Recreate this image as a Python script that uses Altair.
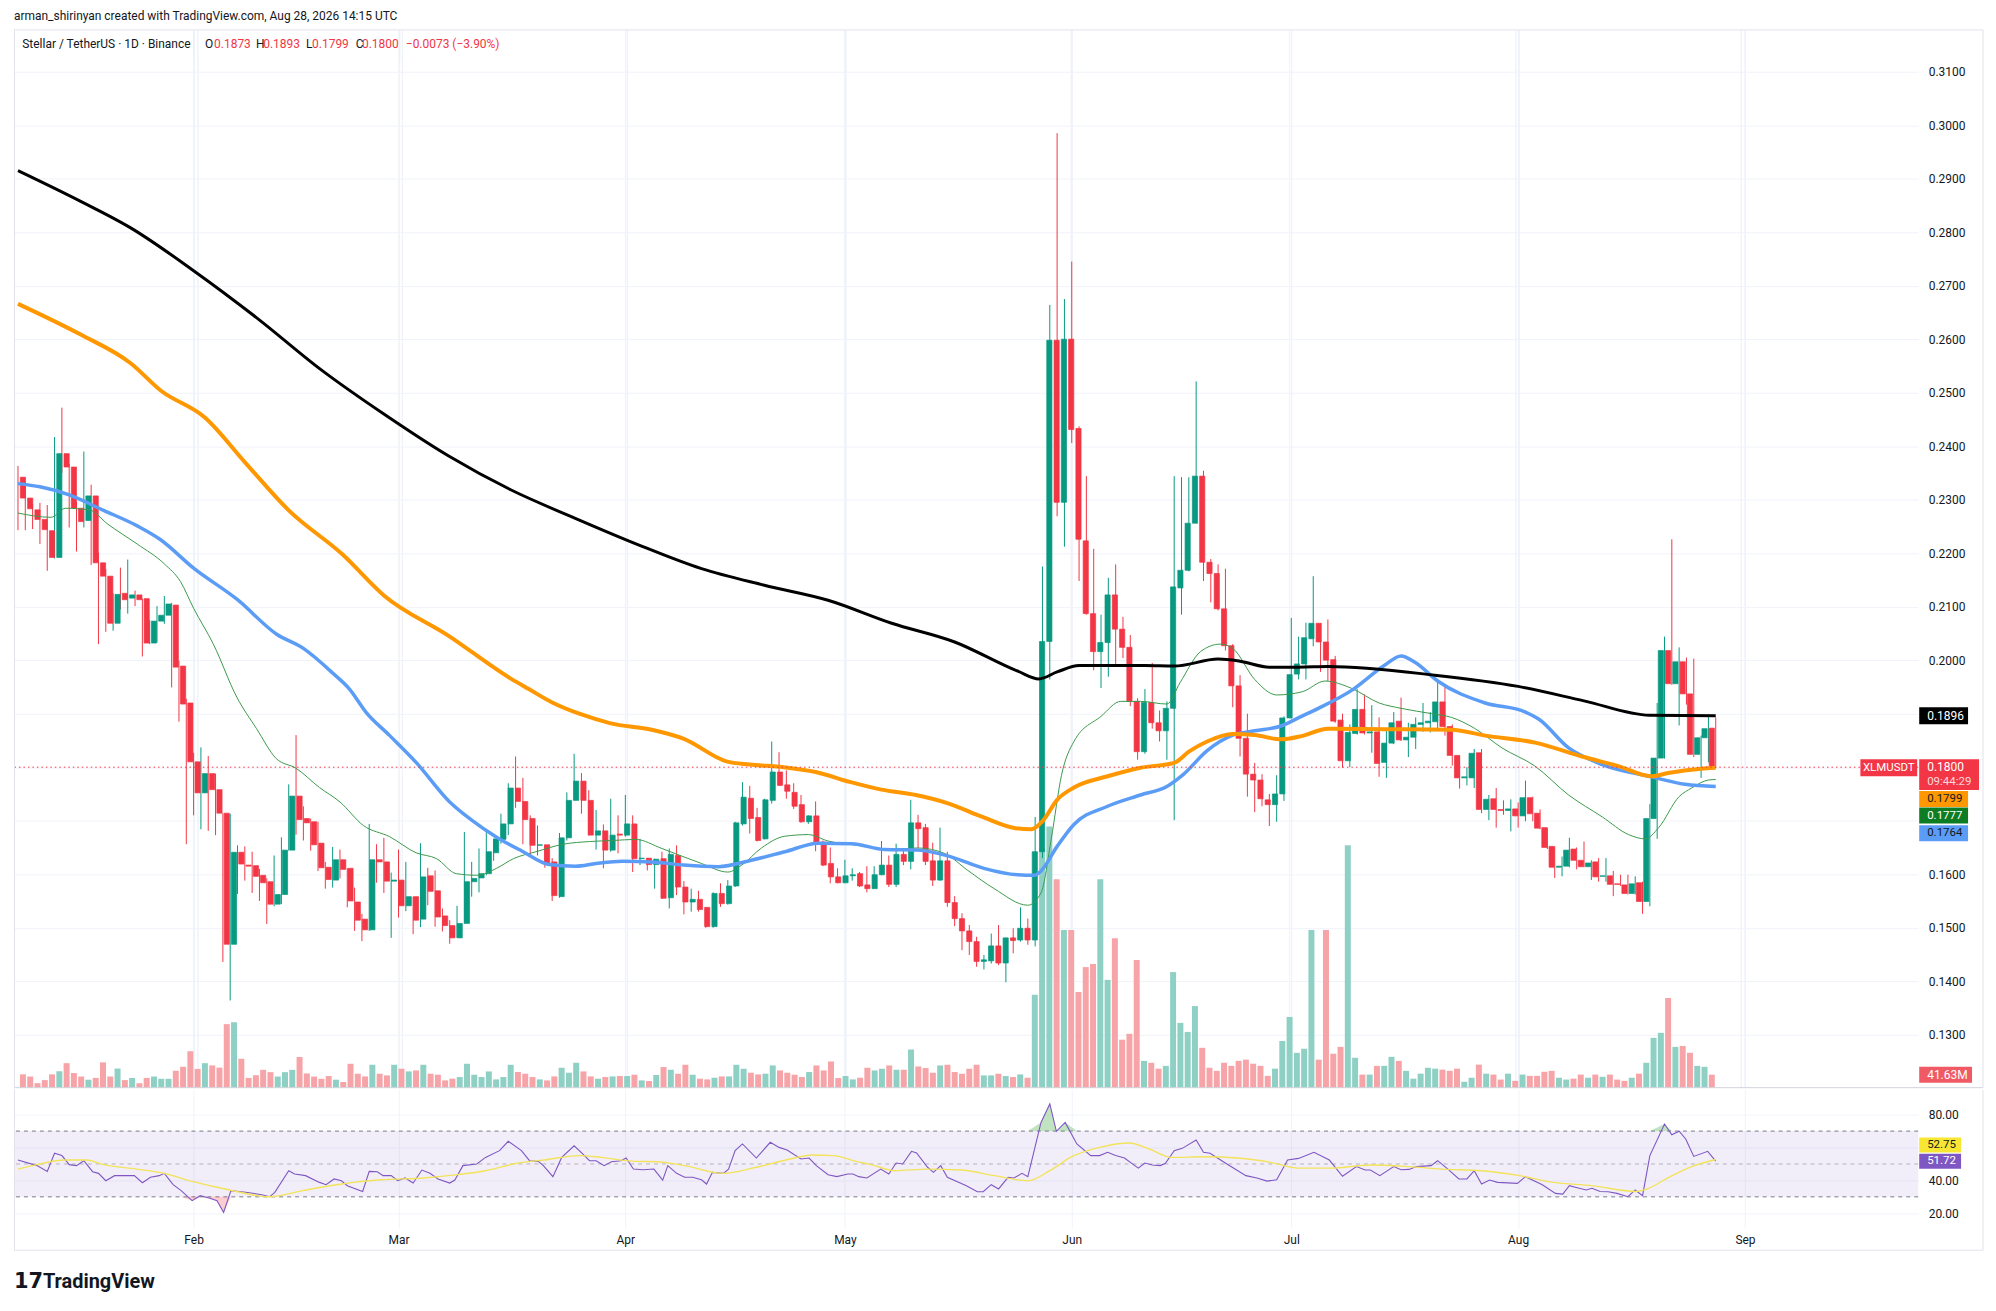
import altair as alt
import pandas as pd

START = "2026-01-08"

opens = [
    .2342, .2303, .2281, .2263, .2242, .2192, .2386, .2361, .2284, .2261,
    .2307, .2182, .2157, .2069, .2125, .2116, .2122, .2115, .2032, .2073,
    .2084, .2103, .1989, .1920, .1810, .1752, .1788, .1758, .1714, .1469,
    .1641, .1617, .1616, .1598, .1586, .1544, .1562, .1645, .1746, .1704,
    .1698, .1658, .1613, .1589, .1627, .1611, .1548, .1516, .1496, .1627,
    .1623, .1587, .1589, .1541, .1558, .1516, .1597, .1569, .1522, .1504,
    .1481, .1508, .1586, .1593, .1601, .1640, .1665, .1694, .1761, .1736,
    .1704, .1654, .1655, .1623, .1558, .1668, .1738, .1774, .1738, .1673,
    .1681, .1645, .1675, .1673, .1694, .1629, .1630, .1618, .1629, .1556,
    .1635, .1576, .1548, .1553, .1538, .1502, .1564, .1545, .1578, .1694,
    .1742, .1706, .1666, .1738, .1791, .1767, .1753, .1730, .1698, .1709,
    .1660, .1620, .1595, .1584, .1597, .1601, .1580, .1573, .1599, .1617,
    .1581, .1637, .1624, .1696, .1687, .1625, .1589, .1625, .1547, .1517,
    .1494, .1474, .1437, .1438, .1466, .1434, .1481, .1477, .1499, .1477,
    .1642, .2035, .2598, .2295, .2600, .2433, .2223, .2087, .2016, .2033,
    .2122, .2058, .2024, .1923, .1829, .1921, .1883, .1868, .1910, .2135,
    .2168, .2256, .2344, .2183, .2162, .2096, .2027, .1952, .1854, .1787,
    .1776, .1739, .1730, .1750, .1892, .1974, .1993, .2040, .2069, .2034,
    .2001, .1888, .1812, .1863, .1908, .1864, .1866, .1809, .1845, .1886,
    .1851, .1856, .1880, .1883, .1885, .1922, .1876, .1822, .1780, .1780,
    .1827, .1721, .1741, .1721, .1719, .1722, .1709, .1743, .1714, .1687,
    .1652, .1613, .1615, .1647, .1626, .1614, .1623, .1596, .1597, .1582,
    .1580, .1564, .1584, .1549, .1704, .1817, .2018, .1956, .1997, .1937,
    .1824, .1855, .1873,
]
highs = [
    .2363, .2334, .2292, .2294, .2290, .2417, .2472, .2367, .2296, .2390,
    .2328, .2201, .2170, .2125, .2173, .2188, .2130, .2115, .2075, .2101,
    .2120, .2107, .1999, .1928, .1827, .1837, .1821, .1788, .1714, .1713,
    .1654, .1652, .1642, .1610, .1592, .1635, .1669, .1768, .1860, .1727,
    .1704, .1698, .1623, .1651, .1646, .1611, .1575, .1526, .1694, .1656,
    .1668, .1603, .1646, .1623, .1558, .1658, .1612, .1607, .1536, .1514,
    .1541, .1679, .1623, .1648, .1682, .1666, .1713, .1770, .1820, .1780,
    .1710, .1691, .1655, .1630, .1677, .1753, .1825, .1789, .1757, .1720,
    .1693, .1741, .1710, .1748, .1710, .1666, .1630, .1629, .1642, .1648,
    .1654, .1587, .1573, .1569, .1538, .1566, .1583, .1589, .1698, .1772,
    .1765, .1724, .1741, .1848, .1828, .1794, .1770, .1748, .1710, .1736,
    .1663, .1650, .1611, .1627, .1611, .1604, .1615, .1615, .1662, .1635,
    .1657, .1649, .1739, .1711, .1694, .1659, .1687, .1642, .1559, .1527,
    .1505, .1483, .1449, .1489, .1505, .1481, .1499, .1538, .1517, .1707,
    .2175, .2664, .2985, .2675, .2745, .2437, .2344, .2208, .2085, .2154,
    .2179, .2081, .2047, .1929, .1946, .1995, .1906, .1923, .2344, .2342,
    .2342, .2521, .2354, .2189, .2179, .2171, .2030, .1972, .1900, .1808,
    .1787, .1750, .1785, .1895, .2079, .2044, .2070, .2157, .2069, .2076,
    .2008, .1900, .1880, .1946, .1936, .1916, .1893, .1870, .1903, .1930,
    .1883, .1893, .1920, .1903, .1964, .1955, .1880, .1822, .1800, .1834,
    .1834, .1748, .1761, .1738, .1740, .1734, .1775, .1745, .1721, .1687,
    .1652, .1633, .1668, .1650, .1661, .1626, .1630, .1630, .1606, .1599,
    .1599, .1596, .1586, .1731, .1920, .2044, .2226, .2024, .2005, .2003,
    .1859, .1897, .1893,
]
lows = [
    .2243, .2243, .2245, .2217, .2167, .2190, .2350, .2248, .2203, .2248,
    .2178, .2030, .2053, .2055, .2095, .2087, .2101, .2007, .2030, .2033,
    .2068, .1949, .1885, .1656, .1710, .1684, .1681, .1673, .1436, .1364,
    .1563, .1588, .1565, .1550, .1507, .1540, .1544, .1644, .1674, .1663,
    .1644, .1606, .1573, .1575, .1592, .1538, .1494, .1475, .1494, .1584,
    .1565, .1481, .1519, .1531, .1488, .1501, .1542, .1502, .1493, .1470,
    .1481, .1508, .1558, .1566, .1598, .1625, .1657, .1673, .1724, .1656,
    .1632, .1635, .1612, .1550, .1556, .1663, .1738, .1713, .1673, .1646,
    .1611, .1642, .1639, .1670, .1604, .1617, .1607, .1573, .1554, .1536,
    .1561, .1525, .1530, .1530, .1500, .1500, .1539, .1543, .1576, .1691,
    .1676, .1661, .1665, .1732, .1765, .1741, .1722, .1696, .1694, .1643,
    .1615, .1583, .1583, .1583, .1588, .1576, .1566, .1573, .1598, .1576,
    .1576, .1617, .1609, .1648, .1617, .1578, .1588, .1539, .1503, .1458,
    .1449, .1427, .1422, .1433, .1430, .1398, .1452, .1474, .1468, .1465,
    .1630, .1964, .2269, .2212, .2406, .2148, .2085, .1981, .1948, .1969,
    .1993, .2004, .1914, .1814, .1825, .1872, .1848, .1814, .1701, .2085,
    .2166, .2256, .2148, .2108, .2093, .2018, .1912, .1820, .1745, .1716,
    .1727, .1690, .1698, .1737, .1891, .1964, .1964, .2026, .1978, .1961,
    .1883, .1799, .1800, .1861, .1861, .1827, .1782, .1780, .1843, .1849,
    .1819, .1834, .1866, .1865, .1870, .1859, .1803, .1760, .1766, .1761,
    .1714, .1701, .1687, .1711, .1680, .1687, .1699, .1699, .1684, .1647,
    .1593, .1596, .1613, .1609, .1613, .1589, .1586, .1586, .1559, .1578,
    .1562, .1562, .1526, .1540, .1666, .1816, .1954, .1878, .1917, .1819,
    .1780, .1809, .1799,
]
closes = [
    .2303, .2283, .2263, .2244, .2192, .2386, .2361, .2284, .2259, .2307,
    .2182, .2157, .2069, .2123, .2113, .2122, .2113, .2032, .2073, .2084,
    .2105, .1987, .1918, .1810, .1752, .1788, .1758, .1714, .1469, .1641,
    .1619, .1615, .1596, .1584, .1544, .1562, .1645, .1746, .1702, .1696,
    .1655, .1612, .1590, .1627, .1609, .1550, .1514, .1496, .1627, .1623,
    .1587, .1589, .1541, .1558, .1514, .1595, .1568, .1520, .1504, .1481,
    .1508, .1586, .1592, .1601, .1642, .1666, .1694, .1761, .1736, .1702,
    .1654, .1655, .1620, .1560, .1668, .1738, .1774, .1738, .1673, .1681,
    .1645, .1673, .1673, .1694, .1629, .1630, .1618, .1628, .1555, .1637,
    .1576, .1548, .1553, .1534, .1502, .1564, .1545, .1578, .1696, .1744,
    .1704, .1663, .1739, .1791, .1766, .1755, .1727, .1698, .1709, .1660,
    .1617, .1595, .1584, .1597, .1599, .1578, .1573, .1599, .1617, .1581,
    .1637, .1624, .1696, .1685, .1624, .1589, .1625, .1547, .1517, .1494,
    .1474, .1437, .1440, .1466, .1434, .1481, .1476, .1499, .1477, .1642,
    .2035, .2598, .2295, .2600, .2431, .2226, .2087, .2016, .2033, .2122,
    .2058, .2024, .1923, .1829, .1921, .1883, .1868, .1910, .2137, .2168,
    .2256, .2344, .2183, .2162, .2096, .2027, .1952, .1854, .1787, .1776,
    .1741, .1730, .1750, .1892, .1973, .1993, .2042, .2069, .2034, .2000,
    .1886, .1812, .1865, .1908, .1864, .1866, .1807, .1845, .1883, .1851,
    .1856, .1880, .1883, .1886, .1922, .1876, .1822, .1780, .1782, .1826,
    .1721, .1740, .1721, .1719, .1722, .1709, .1743, .1713, .1686, .1650,
    .1613, .1615, .1645, .1626, .1614, .1621, .1595, .1597, .1581, .1581,
    .1564, .1582, .1549, .1704, .1817, .2018, .1956, .1997, .1937, .1824,
    .1855, .1872, .1800,
]
volumes_m = [
    42.9, 35.8, 14.4, 24.3, 42.9, 52.8, 78.7, 47.0, 35.8, 25.6,
    31.4, 81.3, 35.8, 61.4, 24.3, 31.4, 14.4, 31.4, 35.8, 28.5,
    28.5, 54.4, 67.2, 117, 60.2, 78.7, 71.4, 64.3, 204, 210,
    92.8, 31.4, 40, 57.3, 49.9, 35.8, 49.9, 57.3, 98.6, 45.8,
    35.8, 28.5, 37.4, 25.6, 18.2, 76.8, 44.8, 36.2, 73.6, 44.8,
    39.4, 73.6, 60.8, 52.2, 55.4, 73.6, 44.8, 41.6, 23.4, 28.8,
    34.2, 76.8, 41.6, 34.2, 52.2, 26.6, 34.2, 73.6, 50.2, 44.8,
    34.2, 26.6, 23.4, 36.2, 64, 48, 80, 52.2, 36.2, 28.8,
    34.2, 36.2, 37.4, 37.4, 41.6, 23.4, 21.4, 40.6, 66.2, 57.6,
    44.8, 73.6, 41.6, 28.8, 26.6, 32, 36.2, 36.2, 73.6, 60.8,
    48, 42.6, 44.8, 71.4, 55.4, 48, 41.6, 34.2, 50.2, 71.4,
    55.4, 84.2, 31, 37.4, 26.6, 32, 64, 55.4, 60.8, 71.4,
    57.6, 57.6, 122.6, 68.2, 63, 48, 71.4, 73.6, 50.2, 44.8,
    60.8, 73.6, 39.4, 39.4, 44.8, 37.4, 34.2, 42.6, 32, 298.6,
    768, 838, 669, 506, 506, 307, 387, 397, 669, 346,
    480, 154, 173, 410, 86, 80, 61, 70, 371, 208,
    179, 262, 128, 64, 54, 80, 70, 86, 90, 77,
    70, 38, 61, 150, 227, 112, 125, 506, 90, 506,
    109, 131, 778, 96, 42, 42, 70, 70, 99, 86,
    54, 29, 45, 64, 61, 58, 54, 61, 19, 32,
    74, 45, 42, 26, 45, 22, 42, 38, 38, 51,
    54, 32, 26, 29, 42, 32, 42, 35, 42, 26,
    22, 32, 45, 80, 160, 176, 288, 131, 134, 112,
    70, 67, 41.63,
]

# moving averages (day offset from start, value)
black_days = [0, 8.5, 15.4, 24, 32.8, 41.4, 50, 58.8, 67.4, 76, 84.7, 93.4, 102, 110.7, 119.4, 128,
              136.7, 139.5, 142, 145, 154, 158, 164, 167, 171, 175, 179, 193.6, 205, 214, 223, 232]
black_vals = [.2915, .2858, .2808, .2728, .2638, .2543, .2460, .2382, .2318, .2266, .2216, .2171, .2140,
              .2112, .2069, .2034, .1979, .1965, .1978, .1990, .1990, .1989, .2002, .1998, .1987, .1987,
              .1988, .1972, .1951, .1924, .1897, .1896]
orange_days = [0, 8.5, 15.4, 19.5, 25.5, 31.2, 37, 44.4, 50, 58.8, 67.4, 69.8, 73, 76.9, 81, 86.6, 91,
               96.8, 100, 104.6, 109, 113.8, 118, 122.7, 127.2, 131.8, 136.3, 138.5, 140, 142, 144.3,
               148.9, 153.4, 158, 160, 162.5, 166, 169, 172.6, 175.4, 179, 186.8, 195.9, 200.5, 207.3,
               214, 218.7, 223.2, 225.5, 230, 232]
orange_vals = [.2666, .2609, .2555, .2504, .2454, .2367, .2280, .2197, .2121, .2046, .1965, .1946, .1921,
               .1899, .1882, .1870, .1853, .1811, .1805, .1800, .1791, .1772, .1758, .1748, .1732, .1707,
               .1686, .1684, .1699, .1739, .1762, .1783, .1799, .1808, .1829, .1848, .1862, .1860, .1852,
               .1858, .1872, .1871, .1870, .1859, .1846, .1819, .1802, .1783, .1789, .1797, .1799]
blue_days = [0, 3, 7, 11.7, 16.3, 19.4, 24, 30, 35.3, 39, 43, 45.3, 47.6, 50.8, 54.4, 59, 62, 65.3, 68.9,
             72.6, 76.2, 79, 82.6, 86.6, 91, 95.7, 100.2, 104.8, 109.4, 113.9, 118.5, 123, 127.6, 132,
             136.6, 138.9, 139.8, 142, 144.3, 148.9, 153.4, 157, 159.3, 162.5, 166, 169, 172.6, 175.4,
             177.7, 182.3, 186.8, 189, 191, 194, 200.5, 206, 207.8, 211.9, 216.5, 223.2, 227.8, 232]
blue_vals = [.2330, .2324, .2309, .2280, .2251, .2226, .2172, .2113, .2049, .2022, .1976, .1946, .1902,
             .1859, .1809, .1735, .1701, .1670, .1643, .1618, .1615, .1620, .1624, .1623, .1617, .1614,
             .1626, .1642, .1658, .1657, .1646, .1645, .1632, .1611, .1599, .1598, .1606, .1652, .1693,
             .1727, .1748, .1764, .1787, .1831, .1860, .1868, .1877, .1895, .1910, .1944, .1991, .2008,
             .1995, .1961, .1920, .1903, .1890, .1836, .1805, .1782, .1768, .1764]
green_days = [0, 4.5, 6.5, 9.9, 12.2, 16.3, 20, 22.2, 24, 26.7, 29.9, 32.6, 35.3, 38, 41.2, 44, 47.2, 50.8,
              54.4, 57.2, 59.9, 62.7, 65.4, 67.7, 70.8, 74.5, 78.1, 81.3, 84.4, 88, 93.4, 97, 98.9, 101.6,
              104.8, 108, 110.7, 114.8, 119.4, 123, 126.6, 129.8, 133.4, 138, 139.8, 141.2, 142.6, 144.3,
              148, 150.7, 153.4, 157, 158.8, 161.6, 164.3, 166, 169, 172, 175.5, 178.6, 182.3, 186, 189,
              193.2, 195.9, 199, 202.8, 207.3, 211.9, 216.5, 220.1, 222.4, 224.2, 227, 228.7, 231, 232]
green_vals = [.2275, .2267, .2284, .2280, .2255, .2217, .2180, .2147, .2097, .2030, .1931, .1872, .1816,
              .1798, .1762, .1735, .1691, .1670, .1640, .1629, .1601, .1598, .1611, .1629, .1642, .1656,
              .1661, .1663, .1665, .1648, .1620, .1604, .1617, .1649, .1671, .1674, .1662, .1654, .1646,
              .1649, .1639, .1607, .1573, .1542, .1565, .1666, .1785, .1848, .1895, .1923, .1923, .1918,
              .1958, .2016, .2030, .2022, .1964, .1935, .1941, .1961, .1947, .1920, .1910, .1900, .1893,
              .1873, .1836, .1802, .1748, .1707, .1674, .1666, .1687, .1745, .1761, .1776, .1777]

rsi_days = [0, 2.6, 4, 5, 6, 7, 8, 9, 10.2, 11, 12, 13.2, 15.9, 17, 18.1, 19.3, 20, 21.2, 22.3, 23.8,
            24.9, 26.1, 27.2, 28.1, 29.1, 31.4, 33.3, 34.4, 35.1, 37, 37.8, 39.3, 41.2, 42.1, 43.2, 44.2,
            45, 47.1, 48, 49.1, 49.9, 51, 51.9, 52.9, 54, 55.2, 56.3, 57.4, 59, 59.7, 60.8, 62.7, 63.9,
            65.8, 67, 68.8, 69.9, 71.1, 71.8, 73.1, 74.3, 76, 77.1, 78.1, 79, 80.1, 81.1, 82.4, 83.1, 84.1,
            85.4, 86.9, 88.1, 88.8, 90, 91.1, 92.2, 93.4, 94.1, 94.9, 96.4, 97.1, 98, 99, 100.9, 102.8, 104,
            105.1, 107, 108.1, 109.1, 110.7, 111.9, 113.4, 114.1, 114.9, 116, 117.9, 119, 120, 120.9,
            122.1, 122.8, 124.3, 125.1, 126.1, 127, 129.6, 131.1, 131.9, 133, 134, 135.3, 136.1, 137.2,
            138, 139.8, 141, 141.9, 143.1, 144.7, 146.6, 147.8, 148.9, 150, 151.2, 153.1, 154, 155, 156.1,
            156.8, 158, 159.1, 161, 162, 162.9, 165.2, 167.8, 169.3, 170.7, 172, 173.5, 175, 177.1, 179.2,
            181, 182.9, 184.1, 184.8, 186.1, 188, 189, 190.1, 191.1, 193.1, 194, 195.4, 196.9, 198, 199,
            200, 201.1, 202.2, 204.9, 206, 208.3, 210.1, 211.1, 212, 213.2, 214.3, 215.1, 216.2, 217.3,
            218.5, 220, 221, 222, 223, 225, 226, 227, 227.9, 229, 230.9, 232]
rsi_vals = [52.4, 49.0, 45.5, 56.5, 55.1, 49.6, 49.0, 52.0, 45.3, 44.3, 39.8, 42.9, 42.9, 38.6, 41.9, 42.9,
            44.3, 37.4, 33.8, 27.7, 30.7, 29.3, 27.7, 20.6, 33.8, 32.7, 31.3, 30.1, 32.7, 45.9, 43.9, 42.9,
            38.8, 37.4, 40.9, 39.8, 36.8, 33.3, 45.5, 45.3, 42.9, 42.9, 39.8, 41.5, 38.4, 46.3, 44.3, 40.9,
            38.4, 40.2, 49.0, 50.0, 54.0, 58.1, 63.8, 58.1, 52.0, 51.6, 49.0, 42.3, 54.0, 61.1, 56.5, 52.0,
            52.0, 49.0, 51.4, 52.0, 53.6, 46.9, 46.5, 46.9, 40.2, 49.0, 44.3, 41.9, 41.9, 40.4, 37.8, 44.9,
            44.3, 46.9, 58.1, 62.2, 53.6, 63.2, 60.1, 58.5, 53.0, 53.6, 49.0, 43.5, 42.3, 43.9, 43.9, 42.3,
            41.5, 46.9, 43.9, 50.6, 50.0, 57.7, 56.7, 48.0, 44.9, 49.0, 41.9, 36.8, 33.1, 33.1, 37.4, 34.8,
            41.9, 41.5, 44.3, 42.3, 75.3, 86.5, 69.9, 75.3, 62.2, 55.1, 55.1, 57.1, 55.1, 53.6, 47.5, 50.6,
            49.4, 49.0, 50.4, 58.1, 59.5, 64.6, 57.1, 56.5, 50.0, 42.9, 41.5, 39.6, 40.4, 52.4, 53.4, 57.1,
            52.4, 42.5, 48.4, 46.3, 46.3, 42.9, 48.4, 46.5, 46.7, 48.4, 49.0, 52.0, 46.9, 40.9, 40.9, 45.9,
            37.8, 40.2, 38.8, 38.2, 42.3, 37.4, 32.1, 31.7, 36.8, 35.4, 34.2, 35.2, 33.3, 33.1, 32.1, 30.1,
            34.2, 30.7, 55.1, 74.3, 67.8, 69.9, 65.2, 54.6, 57.7, 51.72]
rsi_ma_days = [0, 2.6, 6.4, 9.4, 11.7, 16.2, 20, 23.8, 28.3, 34.4, 38.9, 43.5, 49.5, 55.5, 60.1, 63.9, 67.7,
               72.2, 76.7, 79.7, 84.3, 87.3, 91.1, 96.4, 100.9, 105.5, 108.5, 111.5, 114.5, 116.6, 119.8,
               124.3, 128.9, 133.4, 138, 141, 144, 147.8, 151.9, 154.6, 157.6, 162.1, 166.7, 171.2, 175,
               179.5, 184.8, 190.1, 194.6, 200, 205.2, 209.8, 215.1, 221.1, 222.6, 225.6, 228.7, 232]
rsi_ma_vals = [46.9, 49.6, 52.4, 52.4, 49.6, 46.9, 44.3, 39.4, 34.8, 30.1, 33.8, 37.4, 40.4, 41.5, 43.5, 45.9,
               50.0, 52.6, 55.1, 54.0, 51.6, 51.4, 49.0, 44.3, 48.0, 53.0, 55.5, 55.1, 51.6, 49.6, 45.9,
               46.9, 46.3, 42.9, 39.8, 45.9, 54.4, 60.1, 62.8, 59.1, 54.0, 54.4, 53.6, 51.0, 47.5, 47.5,
               49.4, 48.4, 46.9, 45.9, 42.9, 38.8, 36.8, 33.3, 34.8, 41.9, 48.4, 52.75]

month_ticks = ["2026-02-01", "2026-03-01", "2026-04-01", "2026-05-01", "2026-06-01", "2026-07-01",
               "2026-08-01", "2026-09-01"]
price_ticks = [0.13, 0.14, 0.15, 0.16, 0.17, 0.18, 0.19, 0.20, 0.21, 0.22, 0.23, 0.24, 0.25, 0.26,
               0.27, 0.28, 0.29, 0.30, 0.31]
hidden_price_labels = [0.17, 0.18, 0.19]     # covered by the value badges in the reference
rsi_ticks = [20, 40, 60, 80]
hidden_rsi_labels = [60]

# ---------------------------------------------------------------- layout
W = 1910
H_MAIN = 1061
H_RSI = 139
BOX_R = 1975
FONT = "Roboto"
TXT = "#131722"
GRID = "#f0f3fa"
BORDER = "#e0e3eb"
UP = "#089981"
DOWN = "#F23645"
VUP = "#8FD0C5"
VDOWN = "#F7A4A8"

start = pd.Timestamp(START)


def iso(days):
    return [(start + pd.to_timedelta(float(d), unit="D")).strftime("%Y-%m-%dT%H:%M:%SZ") for d in days]


def ms(d):
    return int((start + pd.to_timedelta(float(d), unit="D")).value // 1_000_000)


n = min(len(opens), len(highs), len(lows), len(closes), len(volumes_m))
candles = pd.DataFrame({
    "date": iso(range(n)), "open": opens[:n], "high": highs[:n], "low": lows[:n],
    "close": closes[:n], "vol": volumes_m[:n],
})

month_ms = [int(pd.Timestamp(m).value // 1_000_000) for m in month_ticks]
x_scale = alt.Scale(type="utc", domain=[ms(-0.545), ms(259.67)], nice=False)
x_main = alt.X("date:T", scale=x_scale,
               axis=alt.Axis(values=month_ms, grid=True, gridColor=GRID, labels=False, ticks=False,
                             domain=False, title=None))
x_rsi = alt.X("date:T", scale=x_scale,
              axis=alt.Axis(values=month_ms, grid=True, gridColor=GRID,
                            labelExpr="utcFormat(datum.value, '%b')",
                            ticks=False, domain=False, labelPadding=6, labelFontSize=12,
                            labelColor=TXT, labelFont=FONT, title=None))


def hide_expr(hidden, fmt):
    cond = " || ".join(f"abs(datum.value - {h}) < 1e-6" for h in hidden)
    return f"({cond}) ? '' : format(datum.value, '{fmt}')"


price_scale = alt.Scale(domain=[0.1201, 0.3178], nice=False, zero=False)
price_axis = alt.Axis(orient="right", values=price_ticks, labelExpr=hide_expr(hidden_price_labels, ".4f"),
                      grid=True, gridColor=GRID, ticks=False, domain=False, labelPadding=10,
                      labelFontSize=12, labelColor=TXT, labelFont=FONT, title=None)
vol_scale = alt.Scale(domain=[0, H_MAIN * 3.2], nice=False, zero=True)
rsi_scale = alt.Scale(domain=[10.9, 95.2], nice=False, zero=False)
rsi_axis = alt.Axis(orient="right", values=rsi_ticks, labelExpr=hide_expr(hidden_rsi_labels, ".2f"),
                    grid=True, gridColor=GRID, ticks=False, domain=False, labelPadding=10,
                    labelFontSize=12, labelColor=TXT, labelFont=FONT, title=None)


def py(field):
    return alt.Y(field, scale=price_scale, axis=price_axis)


def ry(field):
    return alt.Y(field, scale=rsi_scale, axis=rsi_axis)


def vy(field):
    return alt.Y(field, scale=vol_scale, axis=None)


up_cond = "datum.close >= datum.open"
one = pd.DataFrame({"a": [0]})


def badge(value, text, bg, fg, width, yfun, off=0, half=8, x0=W + 1, size=12):
    df = pd.DataFrame({"v": [value], "t": [text]})
    base = alt.Chart(df)
    rect = base.mark_rect(color=bg, yOffset=off - half, y2Offset=off + half).encode(
        x=alt.value(x0), x2=alt.value(x0 + width), y=yfun("v:Q"), y2=alt.Y2("v:Q"))
    txt = base.mark_text(align="left", baseline="middle", color=fg, fontSize=size, font=FONT,
                         yOffset=off).encode(x=alt.value(x0 + 8), y=yfun("v:Q"), text="t:N")
    return [rect, txt]


# ---------------------------------------------------------------- volume group
vol_bars = alt.Chart(candles).mark_bar(size=6).encode(
    x=x_main, y=vy("vol:Q"),
    color=alt.condition(up_cond, alt.value(VUP), alt.value(VDOWN)))
vol_group = alt.layer(vol_bars, *badge(41.63, "41.63M", "#EF5A64", "white", 53, vy))

# ---------------------------------------------------------------- price group
wicks = alt.Chart(candles).mark_rule(strokeWidth=1).encode(
    x=x_main, y=py("low:Q"), y2=alt.Y2("high:Q"),
    color=alt.condition(up_cond, alt.value(UP), alt.value(DOWN)))
bodies = alt.Chart(candles).mark_bar(size=5.2, strokeWidth=0.7).encode(
    x=x_main, y=py("open:Q"), y2=alt.Y2("close:Q"),
    color=alt.condition(up_cond, alt.value(UP), alt.value(DOWN)),
    stroke=alt.condition(up_cond, alt.value(UP), alt.value(DOWN)))


def ma_line(days, vals, color, width):
    df = pd.DataFrame({"date": iso(days), "v": vals})
    return alt.Chart(df).mark_line(color=color, strokeWidth=width, interpolate="monotone").encode(
        x=x_main, y=py("v:Q"))


ma_green = ma_line(green_days, green_vals, "#3B9A4A", 1)
ma_blue = ma_line(blue_days, blue_vals, "#5B9CF6", 3.5)
ma_orange = ma_line(orange_days, orange_vals, "#FF9800", 4)
ma_black = ma_line(black_days, black_vals, "#000000", 3)

last_price = alt.Chart(pd.DataFrame({"v": [0.1800]})).mark_rule(
    color=DOWN, strokeDash=[1.5, 3], strokeWidth=1).encode(y=py("v:Q"))

# right-hand badges
b_black = badge(0.1896, "0.1896", "#000000", "white", 49, py, off=0, half=8.5)
xlm_df = pd.DataFrame({"v": [0.1800], "t": ["XLMUSDT"], "t2": ["09:44:29"], "t1": ["0.1800"]})
xlm_rect = alt.Chart(xlm_df).mark_rect(color=DOWN, yOffset=-8, y2Offset=9).encode(
    x=alt.value(W - 58), x2=alt.value(W - 1), y=py("v:Q"), y2=alt.Y2("v:Q"))
xlm_text = alt.Chart(xlm_df).mark_text(align="center", baseline="middle", color="white", fontSize=11.5,
                                       font=FONT, yOffset=0.5).encode(
    x=alt.value(W - 29.5), y=py("v:Q"), text="t:N")
last_rect = alt.Chart(xlm_df).mark_rect(color=DOWN, yOffset=-8, y2Offset=23).encode(
    x=alt.value(W + 1), x2=alt.value(W + 61), y=py("v:Q"), y2=alt.Y2("v:Q"))
last_t1 = alt.Chart(xlm_df).mark_text(align="left", baseline="middle", color="white", fontSize=12,
                                      font=FONT).encode(x=alt.value(W + 9), y=py("v:Q"), text="t1:N")
last_t2 = alt.Chart(xlm_df).mark_text(align="left", baseline="middle", color="#ffd6da", fontSize=11.5,
                                      font=FONT, yOffset=14.5).encode(x=alt.value(W + 9), y=py("v:Q"),
                                                                      text="t2:N")
b_orange = badge(0.1799, "0.1799", "#FF9800", TXT, 49, py, off=31.3, size=11.5)
b_green = badge(0.1777, "0.1777", "#0E7C22", "white", 49, py, off=36.2, size=11.5)
b_blue = badge(0.1764, "0.1764", "#5B9CF6", TXT, 49, py, off=47, size=11.5)

# header texts and frame
header = alt.Chart(one).mark_text(align="left", baseline="middle", fontSize=12, font=FONT,
                                  color=TXT).encode(
    x=alt.value(0), y=alt.value(-14),
    text=alt.value("arman_shirinyan created with TradingView.com, Aug 28, 2026 14:15 UTC"))
legend_items = [
    (8.3, "Stellar / TetherUS · 1D · Binance", TXT), (191.7, "O", TXT), (200.7, "0.1873", DOWN),
    (242.7, "H", TXT), (250, "0.1893", DOWN), (293, "L", TXT), (299, "0.1799", DOWN),
    (342.7, "C", TXT), (349, "0.1800", DOWN), (393, "−0.0073 (−3.90%)", DOWN),
]
legend_df = pd.DataFrame({"x": [i[0] for i in legend_items], "t": [i[1] for i in legend_items],
                          "c": [i[2] for i in legend_items]})
legend = alt.Chart(legend_df).mark_text(align="left", baseline="middle", fontSize=12, font=FONT).encode(
    x=alt.X("x:Q", scale=alt.Scale(domain=[0, W], range=[0, W]), axis=None),
    y=alt.value(14.5), text="t:N", color=alt.Color("c:N", scale=None))


def hline(y, x0=0, x1=BOX_R, color=BORDER):
    return alt.Chart(one).mark_rule(color=color, strokeWidth=1).encode(
        x=alt.value(x0), x2=alt.value(x1), y=alt.value(y))


def vline(x, y0, y1, color=BORDER):
    return alt.Chart(one).mark_rule(color=color, strokeWidth=1).encode(
        x=alt.value(x), y=alt.value(y0), y2=alt.value(y1))


frame_main = [hline(0), hline(H_MAIN, color="#d1d4dc"), vline(0.5, 0, H_MAIN), vline(BOX_R, 0, H_MAIN),
              vline(180.7, 0, 32, color="#eceff5"), vline(387, 0, 32, color="#eceff5")]

price_group = alt.layer(
    wicks, bodies, ma_green, ma_blue, ma_orange, ma_black, last_price,
    *b_black, xlm_rect, xlm_text, last_rect, last_t1, last_t2, *b_orange, *b_green, *b_blue,
    header, legend, *frame_main,
)

main = alt.layer(vol_group, price_group).resolve_scale(y="independent", x="shared").properties(
    width=W, height=H_MAIN)

# ---------------------------------------------------------------- RSI pane
rsi_df = pd.DataFrame({"date": iso(rsi_days), "v": rsi_vals})
rsi_ma_df = pd.DataFrame({"date": iso(rsi_ma_days), "v": rsi_ma_vals})
band = alt.Chart(pd.DataFrame({"lo": [30], "hi": [70]})).mark_rect(color="#7E57C2", opacity=0.1).encode(
    x=alt.value(0), x2=alt.value(W), y=ry("lo:Q"), y2=alt.Y2("hi:Q"))
lvl_outer = alt.Chart(pd.DataFrame({"v": [30, 70]})).mark_rule(
    color="#787B86", strokeDash=[4, 4], strokeWidth=1).encode(y=ry("v:Q"))
lvl_mid = alt.Chart(pd.DataFrame({"v": [50]})).mark_rule(
    color="#787B86", strokeDash=[4, 4], strokeWidth=1, opacity=0.5).encode(y=ry("v:Q"))
ob_fill = alt.Chart(rsi_df).transform_calculate(
    hi="max(datum.v, 70)", base="70").mark_area(color="#4CAF50", opacity=0.35).encode(
    x=x_rsi, y=ry("hi:Q"), y2=alt.Y2("base:Q"))
os_fill = alt.Chart(rsi_df).transform_calculate(
    lo="min(datum.v, 30)", base="30").mark_area(color="#F23645", opacity=0.25).encode(
    x=x_rsi, y=ry("lo:Q"), y2=alt.Y2("base:Q"))
rsi_line = alt.Chart(rsi_df).mark_line(color="#7E57C2", strokeWidth=1.1).encode(x=x_rsi, y=ry("v:Q"))
rsi_ma_line = alt.Chart(rsi_ma_df).mark_line(color="#F2E35A", strokeWidth=1.4,
                                             interpolate="monotone").encode(x=x_rsi, y=ry("v:Q"))
b_yellow = badge(52.75, "52.75", "#F7E733", TXT, 42, ry, off=-14.5, half=7.5, size=11.5)
b_purple = badge(51.72, "51.72", "#7E57C2", "white", 42, ry, off=0, half=7.5, size=11.5)

frame_rsi = [vline(0.5, 0, 161), vline(BOX_R, 0, 161), hline(161)]
logo_mark = alt.Chart(one).mark_text(align="left", baseline="middle", fontSize=21, fontWeight=900,
                                     font="DejaVu Sans", color=TXT).encode(
    x=alt.value(0), y=alt.value(193), text=alt.value("17"))
logo_text = alt.Chart(one).mark_text(align="left", baseline="middle", fontSize=20, fontWeight="bold",
                                     font=FONT, color=TXT).encode(
    x=alt.value(29), y=alt.value(193), text=alt.value("TradingView"))

rsi = alt.layer(
    band, lvl_outer, lvl_mid, os_fill, ob_fill, rsi_line, rsi_ma_line, *b_yellow, *b_purple,
    *frame_rsi, logo_mark, logo_text,
).properties(width=W, height=H_RSI)

chart = alt.vconcat(main, rsi, spacing=0).properties(
    padding={"left": 2, "top": 0, "right": 4, "bottom": 4},
    background="white",
).configure_view(stroke=None).configure_axis(labelFont=FONT)

chart.save("out.html", embed_options={"renderer": "svg", "actions": False})
